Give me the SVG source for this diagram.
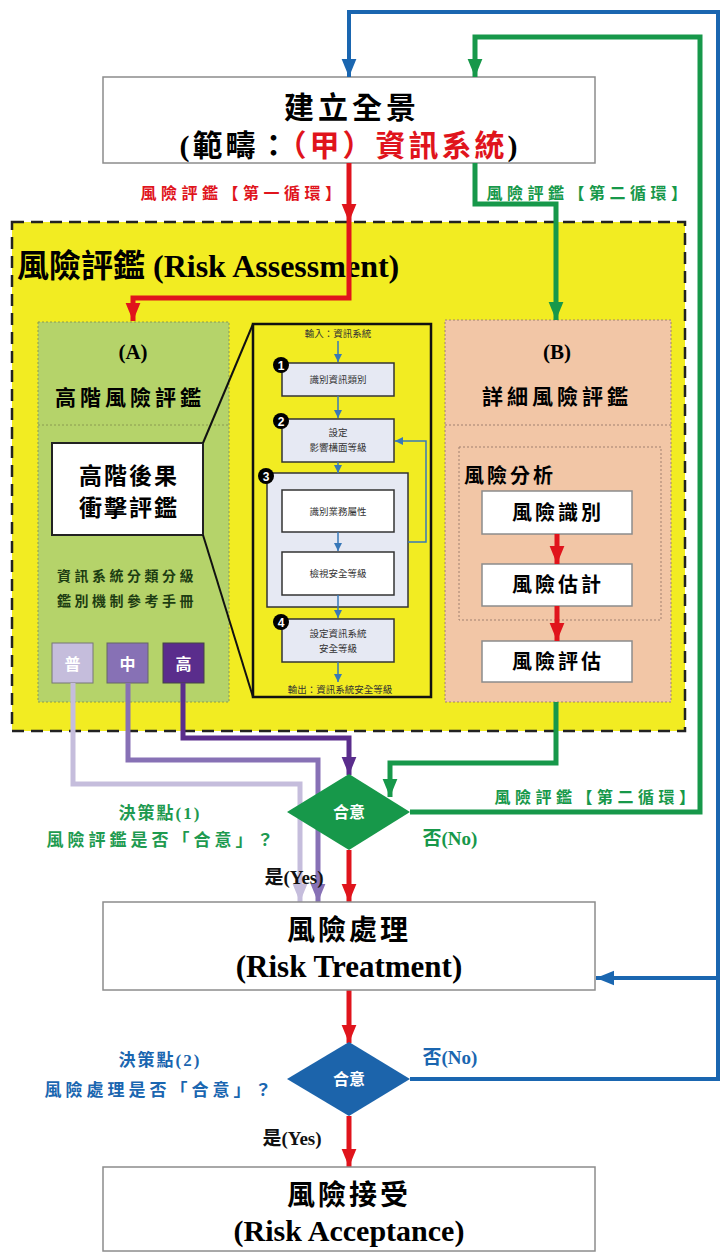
<svg xmlns="http://www.w3.org/2000/svg" width="720" height="1254" viewBox="0 0 720 1254">
<defs>
<style>
.t{font-family:'Liberation Serif','Noto Sans CJK TC',serif;font-weight:bold;text-anchor:middle}
.wbox{fill:#fff;stroke:#8c8c8c;stroke-width:1.5}
.dbox{fill:#e6e9f3;stroke:#333;stroke-width:1.5}
.sm{font-size:9.5px;fill:#333;font-weight:normal}
.badge{fill:#000}
.bn{font-family:'Liberation Sans',sans-serif;font-weight:bold;font-size:12px;fill:#fff;text-anchor:middle}
.red{fill:none;stroke:#e0141c;stroke-width:5}
.grn{fill:none;stroke:#17984a;stroke-width:5}
.blu{fill:none;stroke:#1a66b0;stroke-width:4}
.thin{fill:none;stroke:#3878b8;stroke-width:1.5}
</style>
<marker id="ar" markerUnits="userSpaceOnUse" markerWidth="18" markerHeight="22" refX="22" refY="9" orient="auto" viewBox="0 0 22 18"><path d="M0,0 L22,9 L0,18 z" fill="#e0141c"/></marker>
<marker id="ag" markerUnits="userSpaceOnUse" markerWidth="18" markerHeight="22" refX="22" refY="9" orient="auto" viewBox="0 0 22 18"><path d="M0,0 L22,9 L0,18 z" fill="#17984a"/></marker>
<marker id="ab" markerUnits="userSpaceOnUse" markerWidth="18" markerHeight="22" refX="22" refY="9" orient="auto" viewBox="0 0 22 18"><path d="M0,0 L22,9 L0,18 z" fill="#1a66b0"/></marker>
<marker id="p1" markerUnits="userSpaceOnUse" markerWidth="18" markerHeight="22" refX="22" refY="9" orient="auto" viewBox="0 0 22 18"><path d="M0,0 L22,9 L0,18 z" fill="#c5bddc"/></marker>
<marker id="p2" markerUnits="userSpaceOnUse" markerWidth="18" markerHeight="22" refX="22" refY="9" orient="auto" viewBox="0 0 22 18"><path d="M0,0 L22,9 L0,18 z" fill="#8771b5"/></marker>
<marker id="p3" markerUnits="userSpaceOnUse" markerWidth="18" markerHeight="22" refX="22" refY="9" orient="auto" viewBox="0 0 22 18"><path d="M0,0 L22,9 L0,18 z" fill="#5a2d8c"/></marker>
<marker id="as" markerUnits="userSpaceOnUse" markerWidth="8" markerHeight="8" refX="8" refY="4" orient="auto" viewBox="0 0 8 8"><path d="M0,0 L8,4 L0,8 z" fill="#3878b8"/></marker>
</defs>
<rect width="720" height="1254" fill="#fff"/>

<g id="context">
<rect x="103" y="77" width="492" height="86" class="wbox"/>
<text x="352" y="118" class="t" font-size="30" letter-spacing="4">建立全景</text>
<text x="350" y="156" class="t" font-size="30" letter-spacing="3">(範疇：<tspan fill="#e0141c">（甲）資訊系統</tspan>)</text>
</g>

<g id="risk-assessment">
<rect x="12" y="222" width="673" height="509" fill="#f2ec22" stroke="#222" stroke-width="2.5" stroke-dasharray="12 7"/>
<text x="17" y="277" class="t" font-size="32" style="text-anchor:start">風險評鑑 (Risk Assessment)</text>
</g>

<g id="panel-a">
<rect x="38" y="322" width="191" height="380" fill="#b5d36a" stroke="#8a9a50" stroke-width="1" stroke-dasharray="2 2"/>
<line x1="38" y1="425" x2="229" y2="425" stroke="#8a9a50" stroke-width="1" stroke-dasharray="2 2"/>
<text x="133" y="359" class="t" font-size="21">(A)</text>
<text x="130" y="405" class="t" font-size="21" letter-spacing="4">高階風險評鑑</text>
<rect x="52" y="443" width="151" height="92" fill="#fff" stroke="#222" stroke-width="2"/>
<text x="129" y="484" class="t" font-size="23" letter-spacing="2">高階後果</text>
<text x="129" y="516" class="t" font-size="23" letter-spacing="2">衝擊評鑑</text>
<text x="127" y="581" class="t" font-size="14" fill="#1d3d12" letter-spacing="3.5">資訊系統分類分級</text>
<text x="127" y="606" class="t" font-size="14" fill="#1d3d12" letter-spacing="3.5">鑑別機制參考手冊</text>
<rect x="52" y="643" width="41" height="40" fill="#c5bddc" stroke="#777" stroke-width="1"/>
<text x="72.5" y="670" class="t" font-size="16" fill="#fff">普</text>
<rect x="107" y="643" width="41" height="40" fill="#8771b5" stroke="#666" stroke-width="1"/>
<text x="127.5" y="670" class="t" font-size="16" fill="#fff">中</text>
<rect x="163" y="643" width="41" height="40" fill="#5a2d8c" stroke="#444" stroke-width="1"/>
<text x="183.5" y="670" class="t" font-size="16" fill="#fff">高</text>
</g>

<g id="panel-b">
<rect x="445" y="320" width="226" height="382" fill="#f2c6a6" stroke="#a08070" stroke-width="1" stroke-dasharray="2 2"/>
<line x1="445" y1="425" x2="671" y2="425" stroke="#a08070" stroke-width="1" stroke-dasharray="2 2"/>
<text x="557" y="359" class="t" font-size="21">(B)</text>
<text x="557" y="404" class="t" font-size="21" letter-spacing="4">詳細風險評鑑</text>
<rect x="459" y="447" width="202" height="173" fill="none" stroke="#a08070" stroke-width="1" stroke-dasharray="2 2"/>
<text x="464" y="483" class="t" font-size="20" letter-spacing="3" style="text-anchor:start">風險分析</text>
<rect x="482" y="491" width="150" height="43" class="wbox"/>
<text x="558" y="520" class="t" font-size="20" letter-spacing="3">風險識別</text>
<rect x="482" y="564" width="150" height="42" class="wbox"/>
<text x="558" y="592" class="t" font-size="20" letter-spacing="3">風險估計</text>
<rect x="482" y="641" width="150" height="41" class="wbox"/>
<text x="558" y="669" class="t" font-size="20" letter-spacing="3">風險評估</text>
</g>

<g id="detail">
<line x1="203" y1="443" x2="253" y2="324" stroke="#111" stroke-width="2"/>
<line x1="203" y1="535" x2="253" y2="697" stroke="#111" stroke-width="2"/>
<rect x="253" y="324" width="178" height="373" fill="#f2ec22" stroke="#111" stroke-width="2.5"/>
<text x="338" y="337" class="t sm">輸入：資訊系統</text>
<rect x="282" y="363" width="112" height="33" class="dbox"/>
<text x="338" y="383" class="t sm">識別資訊類別</text>
<rect x="282" y="419" width="112" height="43" class="dbox"/>
<text x="338" y="436" class="t sm">設定</text>
<text x="338" y="451" class="t sm">影響構面等級</text>
<rect x="267" y="473" width="141" height="134" class="dbox"/>
<rect x="282" y="490" width="112" height="42" fill="#fff" stroke="#333" stroke-width="1.5"/>
<text x="338" y="515" class="t sm">識別業務屬性</text>
<rect x="282" y="552" width="112" height="43" fill="#fff" stroke="#333" stroke-width="1.5"/>
<text x="338" y="577" class="t sm">檢視安全等級</text>
<rect x="282" y="619" width="112" height="43" class="dbox"/>
<text x="338" y="637" class="t sm">設定資訊系統</text>
<text x="338" y="652" class="t sm">安全等級</text>
<text x="340" y="693" class="t sm">輸出：資訊系統安全等級</text>
<circle cx="281" cy="365" r="8" class="badge"/><text x="281" y="369.5" class="bn">1</text>
<circle cx="281" cy="421" r="8" class="badge"/><text x="281" y="425.5" class="bn">2</text>
<circle cx="266" cy="476" r="8" class="badge"/><text x="266" y="480.5" class="bn">3</text>
<circle cx="281" cy="622" r="8" class="badge"/><text x="281" y="626.5" class="bn">4</text>
<path d="M338,341 V362" class="thin" marker-end="url(#as)"/>
<path d="M338,396 V418" class="thin" marker-end="url(#as)"/>
<path d="M338,462 V473" class="thin" marker-end="url(#as)"/>
<path d="M338,532 V551" class="thin" marker-end="url(#as)"/>
<path d="M338,595 V618" class="thin" marker-end="url(#as)"/>
<path d="M338,662 V682" class="thin" marker-end="url(#as)"/>
<path d="M408,542 H426 V441 H395" class="thin" marker-end="url(#as)"/>
</g>

<g id="connectors">
<path d="M410,1079 H718 V12 H349 V77" class="blu" marker-end="url(#ab)"/>
<path d="M718,978 H596" class="blu" marker-end="url(#ab)"/>
<path d="M410,812 H700 V37 H475 V77" class="grn" marker-end="url(#ag)"/>
<path d="M475,163 V204 H556 V320" class="grn" marker-end="url(#ag)"/>
<path d="M556,702 V763 H390 V797" class="grn" marker-end="url(#ag)"/>
<path d="M349,163 V222" class="red" marker-end="url(#ar)"/>
<path d="M349,222 V298 H133 V321" class="red" marker-end="url(#ar)"/>
<path d="M557,534 V564" class="red" marker-end="url(#ar)"/>
<path d="M557,606 V641" class="red" marker-end="url(#ar)"/>
<path d="M73,683 V784 H300 V902" fill="none" stroke="#c5bddc" stroke-width="5" marker-end="url(#p1)"/>
<path d="M128,683 V760 H318 V902" fill="none" stroke="#8771b5" stroke-width="5" marker-end="url(#p2)"/>
<path d="M183,683 V738 H349 V775" fill="none" stroke="#5a2d8c" stroke-width="5" marker-end="url(#p3)"/>
<path d="M349,850 V902" class="red" marker-end="url(#ar)"/>
<path d="M349,990 V1043" class="red" marker-end="url(#ar)"/>
<path d="M349,1116 V1167" class="red" marker-end="url(#ar)"/>
<text x="243" y="199" class="t" font-size="16" fill="#e0141c" letter-spacing="4.5">風險評鑑【第一循環】</text>
<text x="589" y="199" class="t" font-size="16" fill="#17984a" letter-spacing="4.5">風險評鑑【第二循環】</text>
<text x="597" y="803" class="t" font-size="16" fill="#17984a" letter-spacing="4.5">風險評鑑【第二循環】</text>
<text x="450" y="845" class="t" font-size="19" fill="#17984a">否(No)</text>
<text x="450" y="1064" class="t" font-size="19" fill="#1a66b0">否(No)</text>
<text x="294" y="884" class="t" font-size="19" fill="#111">是(Yes)</text>
<text x="292" y="1145" class="t" font-size="19" fill="#111">是(Yes)</text>
<text x="160" y="819" class="t" font-size="17" fill="#1e9a50" letter-spacing="2">決策點(1)</text>
<text x="162" y="846" class="t" font-size="17" fill="#1e9a50" letter-spacing="4">風險評鑑是否「合意」？</text>
<text x="160" y="1066" class="t" font-size="17" fill="#1a66b0" letter-spacing="2">決策點(2)</text>
<text x="160" y="1096" class="t" font-size="17" fill="#1a66b0" letter-spacing="4">風險處理是否「合意」？</text>
</g>

<g id="decision-1">
<polygon points="287,812 349,774 410,812 349,850" fill="#17984a"/>
<text x="349" y="818" class="t" font-size="16" fill="#fff">合意</text>
</g>

<g id="decision-2">
<polygon points="287,1079 349,1042 410,1079 349,1116" fill="#1c64ab"/>
<text x="349" y="1085" class="t" font-size="16" fill="#fff">合意</text>
</g>

<g id="risk-treatment">
<rect x="103" y="902" width="492" height="88" class="wbox"/>
<text x="349" y="940" class="t" font-size="28" letter-spacing="3">風險處理</text>
<text x="349" y="977" class="t" font-size="31">(Risk Treatment)</text>
</g>

<g id="risk-acceptance">
<rect x="103" y="1167" width="492" height="84" class="wbox"/>
<text x="349" y="1205" class="t" font-size="28" letter-spacing="3">風險接受</text>
<text x="349" y="1241" class="t" font-size="30">(Risk Acceptance)</text>
</g>
</svg>
